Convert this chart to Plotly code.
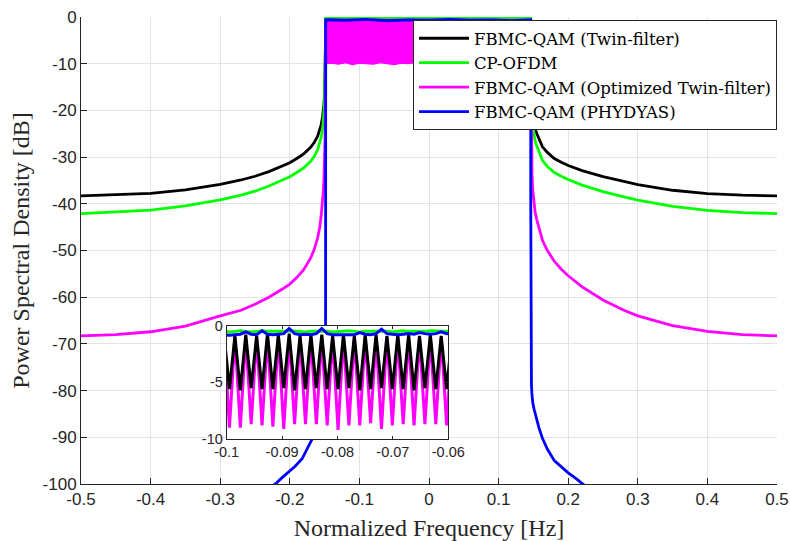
import plotly.graph_objects as go

# ---------------- main spectrum data ----------------
f_left = [-0.5, -0.45, -0.4, -0.35, -0.3, -0.27, -0.25, -0.23, -0.21, -0.2, -0.19, -0.18,
          -0.17, -0.165, -0.16, -0.157, -0.155, -0.153, -0.152, -0.151, -0.150, -0.1495,
          -0.149, -0.1487, -0.1485]
f_pass = [-0.1484, -0.12, -0.09, -0.06, -0.03, 0.0, 0.03, 0.06, 0.09, 0.12, 0.1461]
f_right = [0.1463, 0.1466, 0.147, 0.1475, 0.148, 0.149, 0.1505, 0.1525, 0.155, 0.1585, 0.163,
           0.17, 0.18, 0.19, 0.2, 0.22, 0.25, 0.28, 0.3, 0.35, 0.4, 0.45, 0.5]

twin_left = [-38.3, -38.1, -37.75, -37.0, -35.85, -34.9, -34.1, -33.1, -31.9, -31.2, -30.3,
             -29.3, -27.9, -26.9, -25.5, -24.2, -23.1, -21.5, -20.3, -18.8, -16.5, -14.0,
             -10.0, -5.0, -1.5]
twin_pass = [-0.8, -0.8, -0.8, -0.8, -0.8, -0.8, -0.8, -0.8, -0.8, -0.8, -0.8]
twin_right = [-2.0, -8.0, -13.0, -16.5, -18.5, -20.5, -22.3, -23.9, -25.0, -26.4, -27.8,
              -29.0, -30.3, -31.1, -31.8, -32.9, -34.2, -35.2, -35.9, -37.1, -37.8, -38.15,
              -38.3]

ofdm_left = [-42.1, -41.8, -41.35, -40.45, -39.15, -38.15, -37.3, -36.2, -34.9, -34.2, -33.3,
             -32.3, -30.9, -29.9, -28.4, -27.0, -25.8, -24.0, -22.6, -20.7, -18.0, -15.0,
             -10.8, -5.5, -1.8]
ofdm_pass = [-0.3, -0.25, -0.35, -0.3, -0.2, -0.3, -0.25, -0.3, -0.35, -0.25, -0.3]
ofdm_right = [-2.3, -8.8, -14.0, -18.0, -20.5, -23.0, -24.9, -26.6, -27.7, -29.2, -30.7,
              -32.0, -33.3, -34.1, -34.8, -36.0, -37.4, -38.5, -39.2, -40.55, -41.4, -41.9,
              -42.1]

opt_left = [-68.3, -68.0, -67.4, -66.2, -64.0, -62.8, -61.5, -60.0, -58.2, -57.2, -55.8,
            -54.1, -51.6, -49.8, -47.3, -45.0, -42.6, -39.8, -37.7, -35.0, -31.0, -27.0,
            -21.0, -13.0, -4.0]
opt_right = [-4.0, -14.0, -24.0, -30.0, -33.5, -37.0, -39.8, -41.8, -43.5, -45.5, -47.8,
             -50.0, -52.3, -54.0, -55.4, -57.8, -60.6, -62.8, -64.0, -66.1, -67.3, -68.0,
             -68.3]
# passband of the optimized twin-filter: dense ripple between ~-0.5 dB and ~-10 dB
opt_band_f = [-0.1484, -0.14, -0.13, -0.12, -0.11, -0.10, -0.09, -0.08, -0.07, -0.06,
              -0.05, -0.04, -0.03, -0.02, -0.01, 0.0, 0.01, 0.02, 0.03, 0.04, 0.05,
              0.06, 0.07, 0.08, 0.09, 0.10, 0.11, 0.12, 0.13, 0.14, 0.1461]
opt_band_low = [-10.0, -9.9, -10.1, -9.8, -10.2, -9.9, -10.0, -10.1, -9.8, -10.0,
                -10.2, -9.9, -10.0, -9.8, -10.1, -10.0, -9.9, -10.2, -9.9, -10.0, -10.1,
                -9.8, -10.0, -10.2, -9.9, -10.0, -10.1, -9.8, -10.0, -9.9, -10.0]
opt_band_top = [-0.5, -0.5]

phy_f_left = [-0.2283, -0.2193, -0.2123, -0.2023, -0.1923, -0.1823, -0.1723, -0.1653, -0.1603,
              -0.1563, -0.1533, -0.1513, -0.1501, -0.1495, -0.1491, -0.1488, -0.1486, -0.1485]
phy_left = [-100.8, -99.8, -98.8, -97.5, -96.2, -94.6, -91.8, -89.6, -87.6, -85.8, -84.0,
            -82.5, -80.5, -78.8, -76.0, -72.0, -65.0, -40.0]
phy_pass = [-0.6, -0.7, -0.5, -0.8, -0.6, -0.7, -0.5, -0.7, -0.6, -0.8, -0.6]
phy_f_right = [0.1462, 0.1463, 0.1465, 0.1468, 0.1472, 0.1478, 0.149, 0.151, 0.154, 0.158,
               0.163, 0.17, 0.18, 0.19, 0.2, 0.21, 0.217, 0.226]
phy_right = [-40.0, -65.0, -72.0, -76.0, -78.8, -80.5, -82.5, -84.0, -86.0, -88.0, -90.2,
             -92.5, -95.0, -96.4, -97.6, -98.7, -99.5, -100.6]

# ---------------- inset (zoom of passband ripple) ----------------
ins_f = [-0.10048, -0.0995, -0.09852, -0.09754, -0.09656, -0.09558, -0.0946, -0.09362,
         -0.09264, -0.09166, -0.09068, -0.0897, -0.08872, -0.08774, -0.08676, -0.08578,
         -0.0848, -0.08382, -0.08284, -0.08186, -0.08088, -0.0799, -0.07892, -0.07794,
         -0.07696, -0.07598, -0.075, -0.07402, -0.07304, -0.07206, -0.07108, -0.0701,
         -0.06912, -0.06814, -0.06716, -0.06618, -0.0652, -0.06422, -0.06324, -0.06226,
         -0.06128, -0.0603, -0.05932]
ins_twin = [-0.8, -5.6, -0.9, -5.7, -0.8, -5.5, -0.9, -5.6, -0.7, -5.6, -0.8, -5.5, -0.7,
            -5.7, -0.9, -5.6, -0.8, -5.5, -0.8, -5.6, -0.9, -5.6, -0.8, -5.5, -0.9, -5.7,
            -0.8, -5.6, -0.8, -5.5, -0.9, -5.6, -0.8, -5.6, -0.8, -5.7, -0.9, -5.5, -0.8,
            -5.6, -0.9, -5.6, -0.8]
ins_opt = [-1.0, -9.0, -1.0, -9.0, -1.0, -8.7, -1.0, -8.8, -1.0, -8.9, -1.0, -9.1, -1.0,
           -8.7, -1.0, -8.7, -1.0, -8.7, -1.0, -8.8, -1.0, -9.2, -1.0, -8.8, -1.0, -8.8,
           -1.0, -8.6, -1.0, -9.1, -1.0, -8.8, -1.0, -8.7, -1.0, -8.8, -1.0, -8.7, -1.0,
           -8.7, -1.0, -8.8, -1.0]
ins_ofdm = [-0.5, -0.55, -0.5, -0.45, -0.5, -0.55, -0.5, -0.45, -0.5, -0.5, -0.55, -0.5,
            -0.45, -0.5, -0.5, -0.55, -0.5, -0.5, -0.45, -0.5, -0.55, -0.5, -0.5, -0.45,
            -0.5, -0.55, -0.5, -0.5, -0.45, -0.5, -0.5, -0.55, -0.5, -0.45, -0.5, -0.5,
            -0.55, -0.5, -0.45, -0.5, -0.5, -0.5, -0.45]
ins_phy = [-0.8, -0.85, -0.8, -0.75, -0.55, -0.75, -0.8, -0.45, -0.75, -0.8, -0.75, -0.7,
           -0.25, -0.7, -0.8, -0.75, -0.8, -0.7, -0.25, -0.7, -0.8, -0.8, -0.85, -0.8,
           -0.8, -0.6, -0.75, -0.8, -0.7, -0.3, -0.7, -0.75, -0.8, -0.75, -0.7, -0.75,
           -0.6, -0.7, -0.75, -0.7, -0.55, -0.7, -0.65]

# ---------------- ticks and labels ----------------
x_ticks = [-0.5, -0.4, -0.3, -0.2, -0.1, 0, 0.1, 0.2, 0.3, 0.4, 0.5]
x_ticktext = ["-0.5", "-0.4", "-0.3", "-0.2", "-0.1", "0", "0.1", "0.2", "0.3", "0.4", "0.5"]
y_ticks = [0, -10, -20, -30, -40, -50, -60, -70, -80, -90, -100]
y_ticktext = ["0", "-10", "-20", "-30", "-40", "-50", "-60", "-70", "-80", "-90", "-100"]
ins_x_ticks = [-0.1, -0.09, -0.08, -0.07, -0.06]
ins_x_ticktext = ["-0.1", "-0.09", "-0.08", "-0.07", "-0.06"]
ins_y_ticks = [0, -5, -10]
ins_y_ticktext = ["0", "-5", "-10"]

names = ["FBMC-QAM (Twin-filter)", "CP-OFDM", "FBMC-QAM (Optimized Twin-filter)", "FBMC-QAM (PHYDYAS)"]
colors = ["#000000", "#00ff00", "#ff00ff", "#0000ff"]

LW = 2.8
fig = go.Figure()

# main axes traces
fig.add_trace(go.Scatter(x=f_left + f_pass + f_right, y=twin_left + twin_pass + twin_right,
                         mode="lines", line=dict(color=colors[0], width=LW), name=names[0]))
fig.add_trace(go.Scatter(x=f_left + f_pass + f_right, y=ofdm_left + ofdm_pass + ofdm_right,
                         mode="lines", line=dict(color=colors[1], width=LW), name=names[1]))
fig.add_trace(go.Scatter(x=f_left + [f_pass[0]] + [None] + [f_pass[-1]] + f_right,
                         y=opt_left + [-1.0] + [None] + [-1.0] + opt_right,
                         mode="lines", line=dict(color=colors[2], width=LW), name=names[2],
                         connectgaps=False))
fig.add_trace(go.Scatter(x=opt_band_f + [opt_band_f[-1], opt_band_f[0]],
                         y=opt_band_low + opt_band_top,
                         mode="lines", fill="toself", fillcolor=colors[2],
                         line=dict(color=colors[2], width=1.2), showlegend=False,
                         hoverinfo="skip"))
fig.add_trace(go.Scatter(x=phy_f_left + f_pass + phy_f_right, y=phy_left + phy_pass + phy_right,
                         mode="lines", line=dict(color=colors[3], width=LW), name=names[3]))

# inset traces
ILW = 3
fig.add_trace(go.Scatter(x=ins_f, y=ins_opt, xaxis="x2", yaxis="y2", mode="lines",
                         line=dict(color=colors[2], width=ILW), showlegend=False))
fig.add_trace(go.Scatter(x=ins_f, y=ins_twin, xaxis="x2", yaxis="y2", mode="lines",
                         line=dict(color=colors[0], width=ILW), showlegend=False))
fig.add_trace(go.Scatter(x=ins_f, y=ins_ofdm, xaxis="x2", yaxis="y2", mode="lines",
                         line=dict(color=colors[1], width=ILW), showlegend=False))
fig.add_trace(go.Scatter(x=ins_f, y=ins_phy, xaxis="x2", yaxis="y2", mode="lines",
                         line=dict(color=colors[3], width=ILW), showlegend=False))

AX = "#262626"
GRID = "#e3e3e3"
tick_font = dict(family="Liberation Sans, Arial, sans-serif", size=17, color=AX)
title_font = dict(family="Liberation Serif, Times New Roman, serif", size=24, color=AX)

PL, PR, PT, PB = 81, 777, 17, 484
W, H = 790, 541
ins_l, ins_r, ins_t, ins_b = 226.7, 448.3, 325.7, 439.0

fig.update_layout(
    width=W, height=H,
    margin=dict(l=PL, r=W - PR, t=PT, b=H - PB, autoexpand=False),
    paper_bgcolor="white", plot_bgcolor="white",
    xaxis=dict(range=[-0.5, 0.5], tickvals=x_ticks, ticktext=x_ticktext,
               showline=True, linecolor=AX, linewidth=1, ticks="inside", ticklen=6,
               tickcolor=AX, showgrid=True, gridcolor=GRID, gridwidth=1, zeroline=False,
               tickfont=tick_font, title=dict(text="Normalized Frequency [Hz]", font=title_font, standoff=11),
               automargin=False, domain=[0, 1]),
    yaxis=dict(range=[-100, 0], tickvals=y_ticks, ticktext=y_ticktext,
               showline=True, linecolor=AX, linewidth=1, ticks="inside", ticklen=6,
               tickcolor=AX, showgrid=True, gridcolor=GRID, gridwidth=1, zeroline=False,
               tickfont=tick_font, title=dict(text="Power Spectral Density [dB]", font=title_font, standoff=6),
               automargin=False, domain=[0, 1]),
    xaxis2=dict(range=[-0.1, -0.06], tickvals=ins_x_ticks, ticktext=ins_x_ticktext,
                domain=[(ins_l - PL) / (PR - PL), (ins_r - PL) / (PR - PL)],
                anchor="y2", showline=True, mirror="ticks", linecolor=AX, linewidth=1,
                ticks="inside", ticklen=3, tickcolor=AX, showgrid=False, zeroline=False,
                tickfont=dict(family="Liberation Sans, Arial, sans-serif", size=14.5, color=AX)),
    yaxis2=dict(range=[-10, 0], tickvals=ins_y_ticks, ticktext=ins_y_ticktext,
                domain=[(PB - ins_b) / (PB - PT), (PB - ins_t) / (PB - PT)],
                anchor="x2", showline=True, mirror="ticks", linecolor=AX, linewidth=1,
                ticks="inside", ticklen=3, tickcolor=AX, showgrid=False, zeroline=False,
                tickfont=dict(family="Liberation Sans, Arial, sans-serif", size=14.5, color=AX)),
    legend=dict(x=1.0, y=(PB - 20) / (PB - PT), xanchor="right", yanchor="top",
                bgcolor="white", bordercolor=AX, borderwidth=1, itemwidth=50,
                font=dict(family="DejaVu Serif, Liberation Serif, serif", size=16.5, color="#000000"),
                traceorder="normal"),
    showlegend=True,
)

fig.write_html("out.html")
